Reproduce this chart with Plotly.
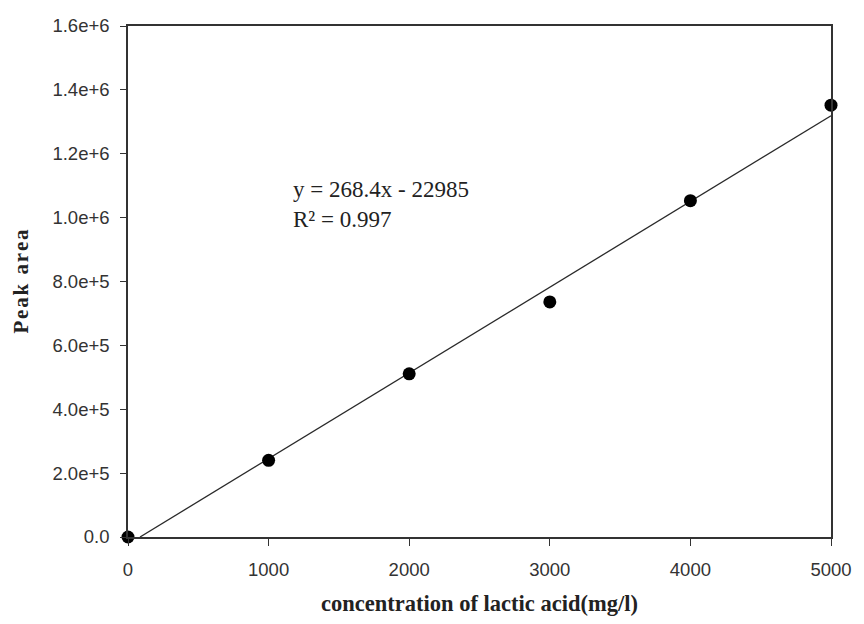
import plotly.graph_objects as go

# Data
concentration = [0, 1000, 2000, 3000, 4000, 5000]
peak_area = [0, 240000, 511000, 736000, 1053000, 1352000]

# Linear fit shown on chart
slope = 268.4
intercept = -22985
fit_x = [-intercept / slope, 5000]
fit_y = [slope * x + intercept for x in fit_x]

x_ticks = [0, 1000, 2000, 3000, 4000, 5000]
y_ticks = [0, 200000, 400000, 600000, 800000, 1000000, 1200000, 1400000, 1600000]
y_tick_labels = ["0.0", "2.0e+5", "4.0e+5", "6.0e+5", "8.0e+5", "1.0e+6", "1.2e+6", "1.4e+6", "1.6e+6"]

serif = "Liberation Serif, Times New Roman, serif"

fig = go.Figure()
fig.add_trace(go.Scatter(x=fit_x, y=fit_y, mode="lines",
                         line=dict(color="#2a2a2a", width=1.3), showlegend=False))
fig.add_trace(go.Scatter(x=concentration, y=peak_area, mode="markers",
                         marker=dict(color="black", size=13), cliponaxis=False, showlegend=False))

fig.add_annotation(
    xref="x", yref="y", x=1160, y=1042000, xanchor="left", yanchor="middle", align="left",
    text="y = 268.4x - 22985<br>R² = 0.997", showarrow=False,
    font=dict(family=serif, size=23, color="#222222"),
)

fig.update_layout(
    width=864, height=624,
    margin=dict(l=128, r=26, t=26, b=86),
    paper_bgcolor="white", plot_bgcolor="white",
    font=dict(family="Liberation Sans, Arial, sans-serif", size=18.5, color="#333333"),
    xaxis=dict(
        range=[0, 5000], tickvals=x_ticks, ticks="outside", ticklen=7, tickwidth=1.3,
        tickcolor="#333333", showline=True, linecolor="#333333", linewidth=1.5,
        mirror=True, showgrid=False, zeroline=False, ticklabelstandoff=8,
        title=dict(text="<b>concentration of lactic acid(mg/l)</b>",
                   font=dict(family=serif, size=22.5, color="#222222"),
                   standoff=16),
    ),
    yaxis=dict(
        range=[0, 1600000], tickvals=y_ticks, ticktext=y_tick_labels, ticks="outside",
        ticklen=6, tickwidth=1.3, tickcolor="#333333", showline=True, linecolor="#333333",
        linewidth=1.5, mirror=True, showgrid=False, zeroline=False, ticklabelstandoff=7,
        title=dict(text="<b>P\u200ae\u200aa\u200ak\u2009 a\u200ar\u200ae\u200aa</b>",
                   font=dict(family=serif, size=21, color="#222222"),
                   standoff=18),
    ),
)

fig.write_html("out.html")
